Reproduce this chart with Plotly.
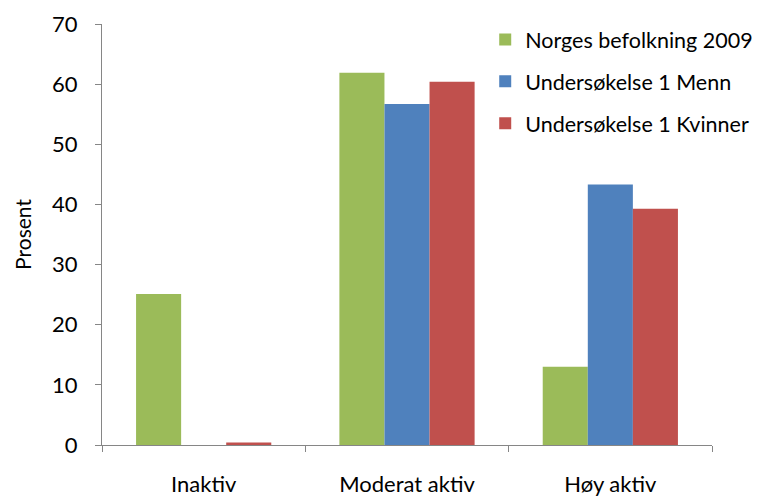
import plotly.graph_objects as go

categories = ["Inaktiv", "Moderat aktiv", "Høy aktiv"]
norges_2009 = [25.1, 61.9, 13.0]
menn = [0.0, 56.7, 43.3]
kvinner = [0.4, 60.4, 39.3]

series = [
    ("Norges befolkning 2009", norges_2009, "#9BBB59"),
    ("Undersøkelse 1 Menn", menn, "#4F81BD"),
    ("Undersøkelse 1 Kvinner", kvinner, "#C0504D"),
]

font_family = "Lato, 'Open Sans', sans-serif"
axis_color = "#868686"

fig = go.Figure()
for i, (name, values, color) in enumerate(series):
    fig.add_trace(go.Bar(
        x=categories, y=values, name=name,
        marker=dict(color=color, line=dict(width=0)),
        legendgroup=str(i),
    ))

fig.update_layout(
    width=766, height=497,
    margin=dict(l=94, r=62, t=16, b=60, autoexpand=False),
    barmode="group", bargap=0.335, bargroupgap=0,
    plot_bgcolor="white", paper_bgcolor="white",
    font=dict(family=font_family, size=22, color="black"),
    showlegend=True,
    legend=dict(
        xref="container", yref="container",
        x=0.623, y=0.978, xanchor="left", yanchor="top",
        font=dict(size=21.5), tracegroupgap=11,
        bgcolor="rgba(0,0,0,0)",
    ),
    xaxis=dict(
        showline=True, linecolor=axis_color, linewidth=1, automargin=False,
        ticks="outside", tickson="boundaries", ticklen=6, tickcolor=axis_color,
        ticklabelstandoff=20, showgrid=False,
    ),
    yaxis=dict(
        range=[0, 70], dtick=10, showline=True, linecolor=axis_color, linewidth=1,
        ticks="outside", ticklen=6, tickcolor=axis_color, showgrid=False, zeroline=False,
        ticklabelstandoff=13, automargin=False,
        title=dict(text="Prosent", font=dict(size=21), standoff=14),
    ),
)

fig.write_html("out.html")
